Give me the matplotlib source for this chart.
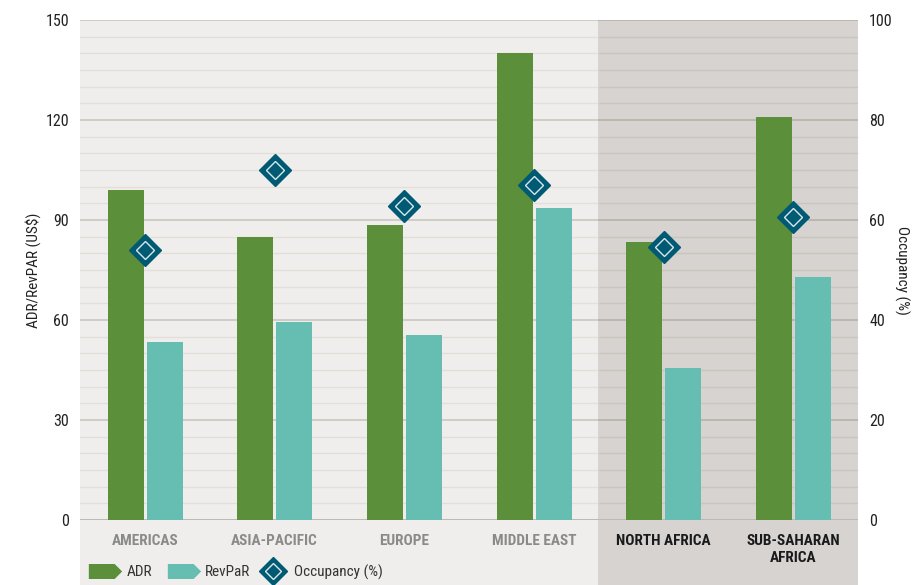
import matplotlib
matplotlib.use("Agg")
import matplotlib.pyplot as plt
import numpy as np
from matplotlib.patches import Rectangle
from matplotlib.lines import Line2D
from matplotlib.path import Path

categories = ["AMERICAS", "ASIA-PACIFIC", "EUROPE", "MIDDLE EAST", "NORTH AFRICA", "SUB-SAHARAN\nAFRICA"]
adr = [99, 85, 88.5, 140, 83.5, 121]
revpar = [53.5, 59.5, 55.5, 93.5, 45.5, 73]
occupancy = [54, 70, 62.7, 67, 54.6, 60.5]
left_ticks = [0, 30, 60, 90, 120, 150]
right_ticks = [0, 20, 40, 60, 80, 100]

GREEN = "#5b8f3a"
TEAL = "#66bdb2"
DIAM = "#005a73"
LIGHT_BG = "#efeeec"
DARK_BG = "#d6d3d0"

plt.rcParams['font.family'] = ['Liberation Sans Narrow', 'Roboto Condensed', 'DejaVu Sans']

W, H = 915, 585
fig = plt.figure(figsize=(W / 100, H / 100), dpi=100)
L, R, B, T = 80 / W, 858 / W, (H - 520) / H, (H - 20) / H
split = 598 / W

fig.patches.append(Rectangle((L, 0), split - L, T, transform=fig.transFigure,
                             facecolor=LIGHT_BG, edgecolor='none', zorder=-10))
fig.patches.append(Rectangle((split, 0), R - split, T, transform=fig.transFigure,
                             facecolor=DARK_BG, edgecolor='none', zorder=-10))

ax = fig.add_axes([L, B, R - L, T - B])
ax2 = ax.twinx()
ax.set_zorder(1)
ax2.set_zorder(2)
ax.patch.set_visible(False)
ax2.patch.set_visible(False)

x = np.arange(len(categories))
ax.set_xlim(-0.5, len(categories) - 0.5)
ax.set_ylim(0, 150)
ax2.set_ylim(0, 100)

# gridlines
for v in np.arange(5, 151, 5):
    major = (v % 30 == 0)
    ax.plot([-0.5, 3.5], [v, v], color="#d0cdc6" if major else "#e2dfdb",
            lw=1.4 if major else 1.0, zorder=1)
    ax.plot([3.5, 5.5], [v, v], color="#bcb7ae" if major else "#c9c5bf",
            lw=1.4 if major else 1.0, zorder=1)
ax.axhline(0, color="#bdb9b0", lw=1.4, zorder=1)

w = 0.277
ax.bar(x - 0.148, adr, width=w, color=GREEN, zorder=3)
ax.bar(x + 0.152, revpar, width=w, color=TEAL, zorder=3)

ax2.plot(x, occupancy, linestyle='none', marker='D', markersize=16,
         markerfacecolor=DIAM, markeredgecolor=DIAM, zorder=5)
ax2.plot(x, occupancy, linestyle='none', marker='D', markersize=9.5,
         markerfacecolor='none', markeredgecolor='#d9e6ea', markeredgewidth=1.0, zorder=6)

for a in (ax, ax2):
    for s in a.spines.values():
        s.set_visible(False)
    a.tick_params(length=0)

ax.set_yticks(left_ticks)
ax.set_yticklabels([str(t) for t in left_ticks], fontsize=11.5, color="#222222")
ax.tick_params(axis='y', pad=8)
ax2.set_yticks(right_ticks)
ax2.set_yticklabels([str(t) for t in right_ticks], fontsize=11.5, color="#222222")
ax2.tick_params(axis='y', pad=8)

ax.set_xticks(x)
ax.set_xticklabels(categories, fontsize=11, fontweight='bold', linespacing=1.3)
ax.tick_params(axis='x', pad=10)
for i, lab in enumerate(ax.get_xticklabels()):
    lab.set_color("#8a8a8a" if i < 4 else "#1a1a1a")
    lab.set_verticalalignment('top')

ax.set_ylabel("ADR/RevPAR (US$)", fontsize=11, color="#222222", labelpad=3)
ax2.set_ylabel("Occupancy (%)", fontsize=11, color="#222222", rotation=-90, labelpad=12)

arrow = Path([(-1, -0.45), (0.55, -0.45), (1, 0), (0.55, 0.45), (-1, 0.45), (-1, -0.45)],
             [Path.MOVETO, Path.LINETO, Path.LINETO, Path.LINETO, Path.LINETO, Path.CLOSEPOLY])
h1 = Line2D([], [], linestyle='none', marker=arrow, markersize=24, markerfacecolor=GREEN, markeredgecolor='none')
h2 = Line2D([], [], linestyle='none', marker=arrow, markersize=24, markerfacecolor=TEAL, markeredgecolor='none')
h3a = Line2D([], [], linestyle='none', marker='D', markersize=14, markerfacecolor=DIAM, markeredgecolor=DIAM)
h3b = Line2D([], [], linestyle='none', marker='D', markersize=8, markerfacecolor='none',
             markeredgecolor='#d9e6ea', markeredgewidth=1.0)
leg1 = fig.legend([h1, h2], ["ADR", "RevPaR"],
                  loc='center left', bbox_to_anchor=(88 / W, 1 - 572 / H), ncol=2, frameon=False,
                  fontsize=11, handlelength=2.2, handletextpad=0.3, columnspacing=1.0,
                  borderpad=0, borderaxespad=0)
leg2 = fig.legend([(h3a, h3b)], ["Occupancy (%)"],
                  loc='center left', bbox_to_anchor=(263 / W, 1 - 572 / H), ncol=1, frameon=False,
                  fontsize=11, handlelength=1.3, handletextpad=0.7,
                  borderpad=0, borderaxespad=0)
for lg in (leg1, leg2):
    for t in lg.get_texts():
        t.set_color("#333333")

fig.savefig("out.png", dpi=100)
